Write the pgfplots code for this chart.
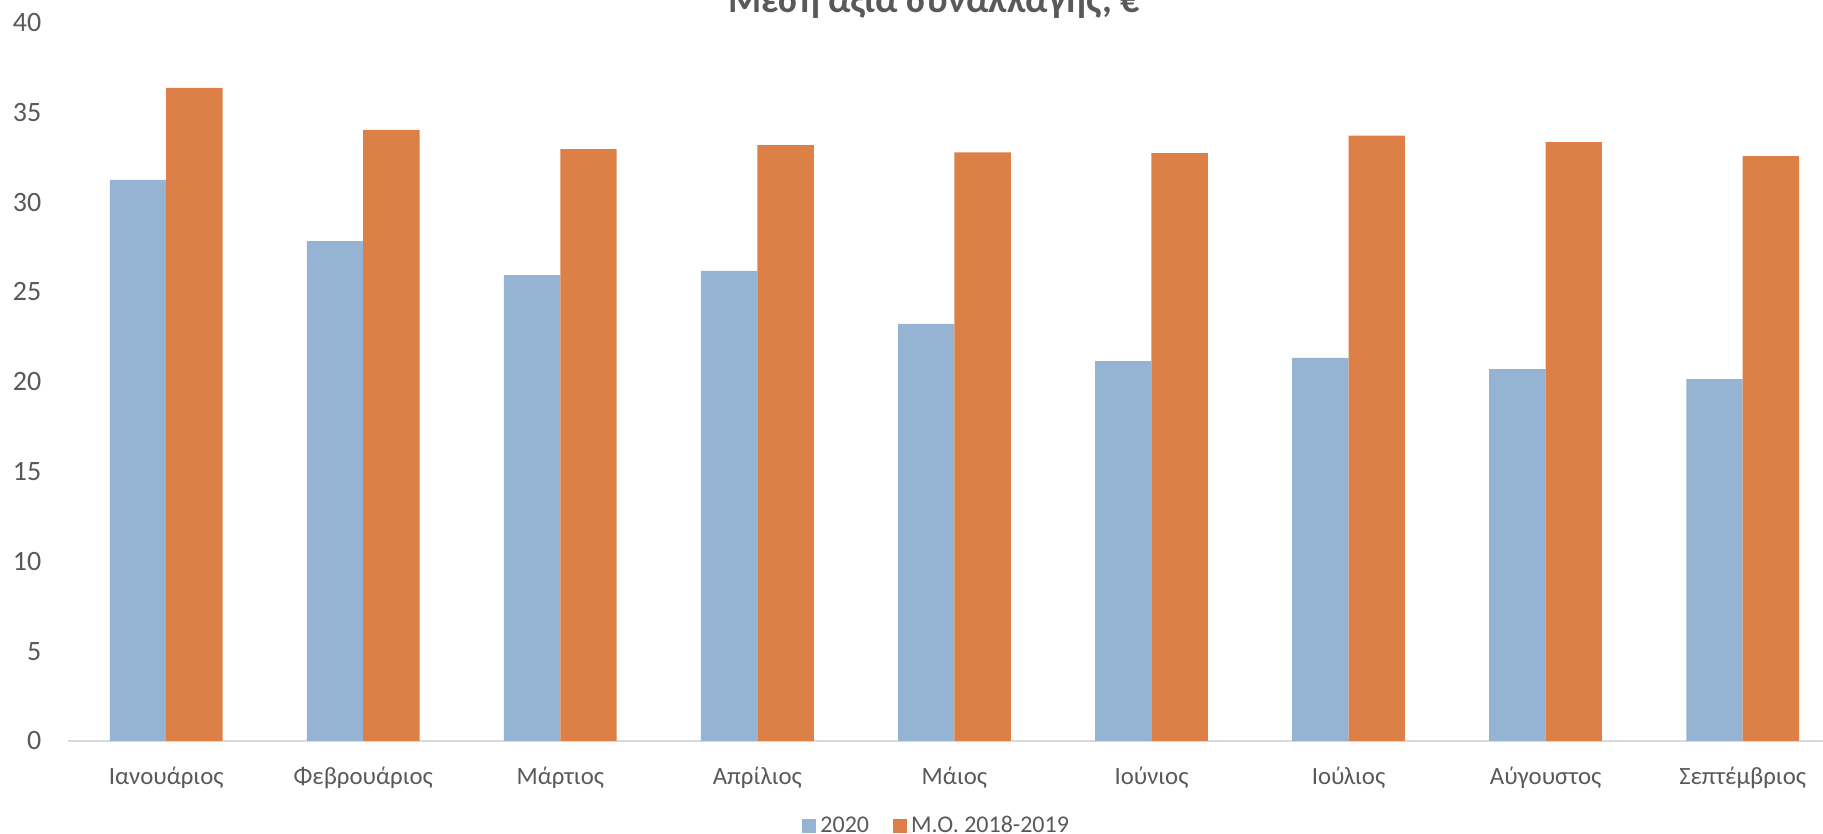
\documentclass[border=0pt]{standalone}
\usepackage{fontspec}
\setmainfont{Carlito}
\usepackage{pgfplots}
\pgfplotsset{compat=1.18}
\definecolor{cblue}{RGB}{149,179,210}
\definecolor{corange}{RGB}{221,128,71}
\definecolor{tgray}{RGB}{89,89,89}
\definecolor{agray}{RGB}{217,217,217}
\begin{document}
\begin{tikzpicture}
\begin{axis}[
  at={(0,0)}, anchor=south west,
  x=98.53pt, y=8.98pt,
  xmin=-0.5, xmax=8.5, ymin=0, ymax=40,
  ybar=0pt, bar width=28.2pt,
  axis lines=left, axis line style={-},
  y axis line style={draw=none},
  x axis line style={draw=agray, line width=1pt},
  tick style={draw=none},
  ytick={0,5,...,40},
  xtick={0,...,8},
  xticklabels={Ιανουάριος,Φεβρουάριος,Μάρτιος,Απρίλιος,Μάιος,Ιούνιος,Ιούλιος,Αύγουστος,Σεπτέμβριος},
  /pgf/number format/assume math mode=true,
  yticklabel style={font=\fontsize{14}{16}\selectfont, text=tgray, anchor=east, xshift=-7.5pt},
  xticklabel style={font=\fontsize{12.4}{14}\selectfont, text=tgray, anchor=base, yshift=-19.8pt},
  clip=false,
  legend style={at={(0.4906,-0.1183)}, anchor=center, draw=none, fill=none,
    legend columns=2, font=\fontsize{12}{14}\selectfont, text=tgray,
    /tikz/every even column/.append style={column sep=10pt}},
  legend image code/.code={\fill[#1] (0pt,-3.5pt) rectangle (7pt,3.5pt);},
]
\addplot[fill=cblue, draw=none] coordinates {(0,31.24) (1,27.83) (2,25.94) (3,26.17) (4,23.22) (5,21.15) (6,21.33) (7,20.70) (8,20.15)};
\addplot[fill=corange, draw=none] coordinates {(0,36.37) (1,34.03) (2,32.96) (3,33.18) (4,32.77) (5,32.73) (6,33.70) (7,33.35) (8,32.57)};
\legend{2020,Μ.Ο. 2018-2019}
\node[anchor=base, font=\bfseries\fontsize{19}{22}\selectfont, text=tgray] at (rel axis cs:0.4885,1.0134) {Μέση αξία συναλλαγής, €};
\end{axis}
\pgfresetboundingbox
\path (-33.83pt,-46.5pt) rectangle (877.7pt,370.5pt);
\end{tikzpicture}
\end{document}
